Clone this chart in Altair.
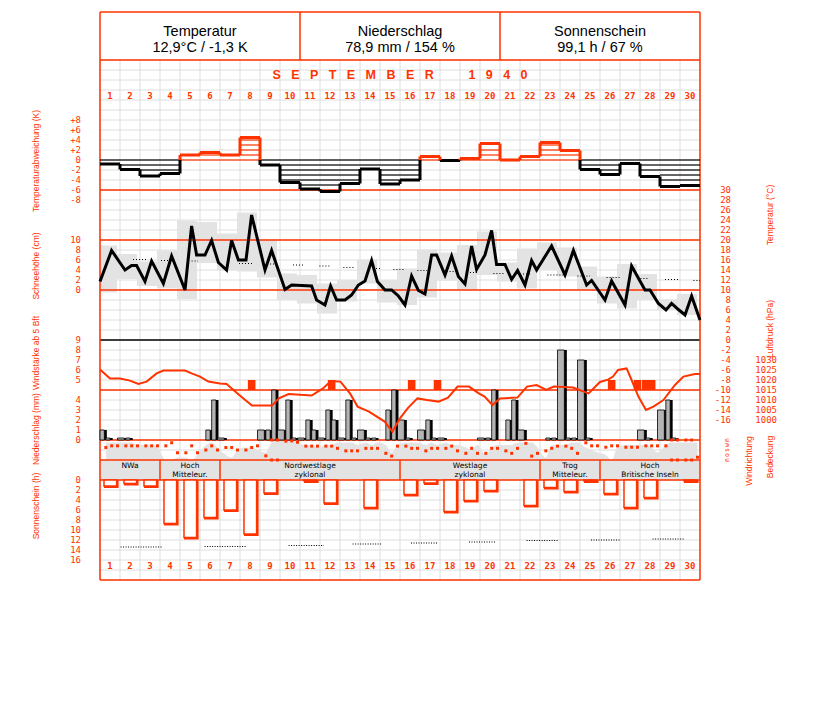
import altair as alt
import pandas as pd

RED = "#ff3300"
GRID = "#dedede"
GREY = "#e3e3e3"
NARROW = "Liberation Sans, Arial, sans-serif"
MONO = "DejaVu Sans Mono, Liberation Mono, monospace"
SANS = "DejaVu Sans, Liberation Sans, sans-serif"
NB = "\u00a0"

# ------------------------------------------------------------------ data
days = list(range(1, 31))
obs_hours = [7, 14, 21]

header_title = ["Temperatur", "Niederschlag", "Sonnenschein"]
header_value = ["12,9°C / -1,3 K", "78,9 mm / 154 %", "99,1 h / 67 %"]
month_word = "SEPTEMBER"
year_word = "1940"

# daily temperature anomaly (K)
anomaly = [-0.8, -1.9, -3.2, -2.7, 1.0, 1.5, 1.0, 4.5, -1.0, -4.5,
           -5.8, -6.3, -4.7, -1.8, -4.8, -4.0, 0.7, -0.1, 0.3, 3.3,
           0.0, 0.7, 3.5, 1.9, -1.9, -2.9, -0.7, -3.3, -5.3, -5.1]

# daily max / min temperature (°C)
tmax = [18.9, 17.2, 15.7, 17.9, 23.9, 23.6, 21.3, 25.5, 20.1, 13.3,
        13.0, 11.3, 12.0, 16.1, 12.0, 14.3, 18.1, 17.5, 19.0, 21.7,
        15.5, 18.3, 19.5, 18.5, 14.7, 12.7, 15.2, 13.2, 8.1, 9.2]
tmin = [9.5, 12.2, 10.8, 10.3, 8.2, 15.4, 13.9, 13.7, 12.5, 8.0,
        7.3, 5.3, 7.7, 11.3, 7.5, 7.0, 8.5, 11.9, 10.1, 13.0,
        11.7, 10.3, 14.0, 12.7, 10.0, 7.3, 6.3, 8.0, 6.0, 5.0]

# temperature curve (time in days since 1 Sep 0h, °C)
temp_time = [0.0, 0.58, 1.25, 1.58, 1.83, 2.25, 2.58, 3.17, 3.58, 4.25,
             4.58, 4.83, 5.25, 5.58, 5.92, 6.33, 6.58, 6.92, 7.3, 7.58,
             8.25, 8.58, 9.25, 9.58, 10.58, 10.83, 11.25, 11.53, 11.83, 12.25,
             12.58, 12.92, 13.25, 13.58, 13.87, 14.25, 14.58, 14.92, 15.25, 15.58,
             15.92, 16.25, 16.58, 16.83, 17.25, 17.58, 17.92, 18.25, 18.58, 18.83,
             19.25, 19.58, 19.83, 20.25, 20.58, 20.88, 21.25, 21.58, 21.83, 22.58,
             23.25, 23.67, 24.33, 24.58, 25.25, 25.58, 26.25, 26.58, 27.25, 27.5,
             27.92, 28.3, 28.58, 28.92, 29.25, 29.58, 30.0]
temp_value = [11.7, 17.9, 14.0, 14.9, 14.9, 11.7, 15.8, 11.3, 16.8, 10.0,
              22.8, 17.0, 17.0, 19.9, 15.5, 14.0, 19.9, 16.0, 16.0, 25.0,
              14.0, 17.9, 10.1, 11.0, 10.8, 8.0, 7.0, 10.8, 8.0, 8.0,
              9.0, 11.0, 11.8, 15.9, 11.7, 10.0, 10.0, 8.8, 7.0, 12.8,
              9.9, 9.2, 17.0, 17.0, 13.0, 16.8, 12.7, 11.2, 18.8, 14.1,
              17.0, 21.9, 15.1, 15.1, 12.1, 13.9, 11.0, 15.9, 14.0, 18.8,
              13.0, 17.9, 11.0, 11.9, 8.0, 11.8, 7.0, 14.8, 10.0, 10.0,
              7.3, 6.0, 7.3, 6.1, 5.0, 8.8, 4.0]

# normal temperature (dotted pieces): start day, end day, °C
tnorm_start = [1.65, 3.05, 4.58, 6.95, 8.5, 9.65, 10.97, 12.17, 13.65, 14.67,
               15.87, 17.33, 18.5, 19.67, 21.15, 22.37, 23.87, 25.33, 26.87, 28.25, 29.67]
tnorm_end = [2.35, 3.6, 4.9, 7.6, 8.85, 10.2, 11.5, 12.75, 14.0, 15.2,
             16.42, 17.83, 18.9, 20.2, 21.6, 23.25, 24.5, 26.0, 27.42, 28.92, 30.0]
tnorm_value = [16.1, 15.9, 15.8, 15.3, 15.2, 15.0, 14.8, 14.5, 14.3, 14.1,
               13.9, 13.7, 13.5, 13.3, 13.2, 13.0, 12.8, 12.5, 12.3, 12.1, 11.9]

# air pressure curve (time in days, hPa)
press_time = [0.0, 0.5, 1.0, 1.5, 1.92, 2.33, 2.83, 3.17, 4.25, 4.58,
              5.0, 5.42, 6.0, 6.33, 6.67, 7.17, 7.6, 8.6, 8.94, 9.43,
              10.58, 11.15, 11.54, 12.02, 12.5, 12.88, 13.45, 14.23, 14.62, 15.0,
              15.38, 15.87, 16.35, 16.93, 17.4, 17.88, 18.45, 18.94, 19.23, 19.62,
              20.0, 20.87, 21.35, 21.83, 22.31, 22.69, 23.65, 24.43, 25.0, 25.4,
              25.65, 25.9, 26.33, 26.58, 26.92, 27.3, 27.67, 28.17, 28.75, 29.17,
              29.75, 30.0]
press_value = [1025.3, 1020.8, 1020.8, 1019.7, 1018.0, 1019.2, 1023.3, 1024.7, 1024.7, 1023.3,
               1021.7, 1019.2, 1018.3, 1018.0, 1015.0, 1010.8, 1007.2, 1007.2, 1010.8, 1013.0,
               1012.2, 1015.8, 1019.5, 1019.2, 1013.3, 1006.7, 1004.2, 999.2, 994.2, 1000.8,
               1005.8, 1010.8, 1010.0, 1009.2, 1011.2, 1016.7, 1016.7, 1013.3, 1011.7, 1007.5,
               1010.8, 1011.2, 1016.7, 1017.5, 1015.0, 1016.7, 1016.2, 1013.3, 1019.0, 1020.2,
               1021.7, 1025.0, 1025.8, 1020.0, 1011.7, 1005.0, 1006.7, 1010.0, 1017.5, 1021.7,
               1023.0, 1023.0]

# precipitation per interval (mm): night (21-7 h), 7-14 h, 14-21 h
precip_night = [1.0, 0.2, 0, 0, 0, 0, 0.2, 0, 1.0, 1.0,
                0.2, 0.2, 0.2, 1.0, 0, 2.0, 1.0, 0.2, 0, 0.2,
                0, 1.0, 0, 9.0, 8.0, 0, 0, 1.0, 3.0, 0]
precip_morning = [0.2, 0.2, 0, 0, 0, 1.0, 0, 0, 1.0, 4.0,
                  2.0, 3.0, 4.0, 0.2, 3.0, 0.2, 2.0, 0, 0, 0.2,
                  2.0, 0, 0.2, 0.2, 0.2, 0, 0, 0.2, 4.0, 0]
precip_afternoon = [0, 0, 0, 0, 0, 4.0, 0, 0, 5.0, 0.2,
                    1.0, 2.0, 0.2, 0.2, 5.0, 0, 0.2, 0, 0, 5.0,
                    4.0, 0, 0.2, 0.2, 0, 0, 0, 0, 0.2, 0]

# observations with wind force >= 5 Bft
wind_day = [8, 12, 16, 17, 26, 27, 28, 28]
wind_hour = [14, 14, 14, 21, 14, 21, 7, 14]
wind_bft = [5, 5, 5, 5, 5, 5, 5, 5]

# wind direction per observation (degrees, 0 = N) 7/14/21 h
wind_dir = [135, 105, 105, 105, 105, 105, 105, 105, 105, 105, 50, 230,
            230, 105, 230, 180, 105, 180, 135, 135, 180, 180, 135, 105,
            285, 0, 0, 20, 15, 40, 110, 110, 110, 110, 110, 150,
            195, 195, 195, 150, 150, 150, 240, 290, 110, 110, 150, 150,
            195, 150, 150, 150, 110, 195, 240, 150, 240, 240, 150, 150,
            195, 240, 150, 60, 290, 240, 195, 150, 110, 110, 150, 240,
            50, 105, 105, 130, 105, 105, 130, 130, 130, 105, 105, 105,
            105, 0, 0, 0, 0, 310]

# cloud cover per observation (octas) 7/14/21 h
cloud = [7, 7, 7, 7, 7, 6, 6, 6, 5, 0, 0, 1,
         1, 0, 2, 6, 7, 5, 2, 1, 4, 5, 5, 4,
         3, 7, 8, 8, 8, 7, 6, 6, 5, 6, 6, 7,
         7, 7, 6, 7, 6, 7, 6, 3, 6, 7, 7, 7,
         6, 7, 6, 7, 6, 6, 5, 4, 6, 2, 5, 6,
         6, 6, 7, 7, 7, 5, 1, 6, 6, 6, 7, 7,
         5, 4, 3, 2, 0, 5, 6, 6, 6, 6, 5, 3,
         6, 7, 7, 7, 7, 7]

# sunshine duration (h)
sunshine = [1.2, 0.7, 1.2, 8.7, 11.5, 7.5, 6.0, 10.8, 2.6, 0.0,
            0.2, 4.6, 0.0, 5.5, 0.0, 2.9, 0.6, 6.3, 4.1, 2.1,
            0.0, 5.1, 1.5, 2.3, 0.2, 2.7, 5.5, 3.5, 0.0, 0.2]
sun_norm_start = [1.03, 5.23, 9.43, 12.63, 15.55, 18.45, 21.33, 24.55, 27.63]
sun_norm_end = [3.12, 7.3, 11.2, 14.1, 16.9, 19.8, 22.9, 26.0, 29.2]
sun_norm_value = [13.4, 13.3, 13.1, 12.8, 12.6, 12.4, 12.1, 12.0, 11.8]

# weather types
wt_start = [0, 3, 6, 15, 22, 25]
wt_end = [3, 6, 15, 22, 25, 30]
wt_line1 = ["NWa", "Hoch", "Nordwestlage", "Westlage", "Trog", "Hoch"]
wt_line2 = ["", "Mitteleur.", "zyklonal", "zyklonal", "Mitteleur.", "Britische Inseln"]

# ------------------------------------------------------------------ scales
def ys(domain, p0, p1):
    return alt.Scale(domain=domain, range=[p0 - 8, p1 - 8], nice=False, zero=False)

XS = alt.Scale(domain=[0, 30], range=[92, 692], nice=False, zero=False, clamp=True)
ROW = ys([-4.8, 52], 12, 580)
ANOM = ys([-8, 8], 200, 120)
TEMP = ys([-16, 30], 420, 190)
SNOW = ys([0, 10], 290, 240)
PRES = ys([1000, 1030], 420, 360)
WIND = ys([4, 9], 390, 340)
PREC = ys([0, 10], 440, 340)
WDIR = ys([0, 360], 440, 460)
CLOUD = ys([0, 8], 460, 440)
SUN = ys([0, 16], 480, 560)


def X(f):
    return alt.X(f"{f}:Q", scale=XS, axis=None)


def Y(f, sc):
    return alt.Y(f"{f}:Q", scale=sc, axis=None)


layers = []

# ---------------- grid
grid_v = pd.DataFrame({"t": list(range(31)), "r0": 0, "r1": 52})
layers.append(alt.Chart(grid_v).mark_rule(color=GRID, strokeWidth=1).encode(
    x=X("t"), y=Y("r0", ROW), y2="r1"))
grid_h = pd.DataFrame({"r": list(range(53)), "a": 0, "b": 30})
layers.append(alt.Chart(grid_h).mark_rule(color=GRID, strokeWidth=1).encode(
    x=X("a"), x2="b", y=Y("r", ROW)))

# ---------------- temperature min/max blocks
blk = pd.DataFrame({"d": days, "lo": tmin, "hi": tmax})
blk["a"] = blk["d"] - 1.15
blk["b"] = blk["d"] - 0.15
layers.append(alt.Chart(blk).mark_rect(color=GREY).encode(
    x=X("a"), x2="b", y=Y("lo", TEMP), y2="hi"))

# ---------------- weather type band background and cloud cover
band = pd.DataFrame({"a": [0], "b": [30], "r0": [40], "r1": [42]})
layers.append(alt.Chart(band).mark_rect(color=GREY).encode(
    x=X("a"), x2="b", y=Y("r0", ROW), y2="r1"))
obs_t = [d - 1 + h / 24 for d in days for h in obs_hours]
cl = pd.DataFrame({"t": obs_t, "c": cloud})
layers.append(alt.Chart(cl).mark_area(color=GREY, interpolate="monotone").encode(
    x=X("t"), y=Y("c", CLOUD), y2=alt.datum(0)))

# ---------------- structural lines
hl = pd.DataFrame({"r": [-4.8, 0, 13, 18, 23, 33, 38, 40, 42, 52, 28],
                   "c": [RED] * 10 + ["black"], "a": 0, "b": 30})
layers.append(alt.Chart(hl).mark_rule(strokeWidth=1.5).encode(
    x=X("a"), x2="b", y=Y("r", ROW), color=alt.Color("c:N", scale=None)))
vl = pd.DataFrame({"t": [0, 30, 10, 20] + wt_start[1:],
                   "r0": [-4.8, -4.8, -4.8, -4.8] + [40] * 5,
                   "r1": [52, 52, 0, 0] + [42] * 5})
layers.append(alt.Chart(vl).mark_rule(color=RED, strokeWidth=1.5).encode(
    x=X("t"), y=Y("r0", ROW), y2="r1"))

# ---------------- temperature anomaly
hatch = []
for d, a in zip(days, anomaly):
    col = RED if a >= 0 else "black"
    k = 0
    while k == 0 or k < abs(a) - 0.3:
        hatch.append({"a": d - 1, "b": d, "v": k if a >= 0 else -k, "c": col})
        k += 1
hatch = pd.DataFrame(hatch)
layers.append(alt.Chart(hatch).mark_rule(strokeWidth=1.2).encode(
    x=X("a"), x2="b", y=Y("v", ANOM), color=alt.Color("c:N", scale=None)))
tops = pd.DataFrame({"a": [d - 1 for d in days], "b": days, "v": anomaly,
                     "c": [RED if a >= 0 else "black" for a in anomaly]})
layers.append(alt.Chart(tops).mark_rule(strokeWidth=3).encode(
    x=X("a"), x2="b", y=Y("v", ANOM), color=alt.Color("c:N", scale=None)))
verts = []
for i in range(29):
    a0, a1 = anomaly[i], anomaly[i + 1]
    lo, hi = min(a0, a1), max(a0, a1)
    if lo < 0:
        verts.append({"t": i + 1, "v0": lo, "v1": min(hi, 0), "c": "black"})
    if hi > 0:
        verts.append({"t": i + 1, "v0": max(lo, 0), "v1": hi, "c": RED})
verts = pd.DataFrame(verts)
layers.append(alt.Chart(verts).mark_rule(strokeWidth=3).encode(
    x=X("t"), y=Y("v0", ANOM), y2="v1", color=alt.Color("c:N", scale=None)))

# ---------------- temperature normal + curve
tn = pd.DataFrame({"a": tnorm_start, "b": tnorm_end, "v": tnorm_value})
layers.append(alt.Chart(tn).mark_rule(color="black", strokeWidth=1.2, strokeDash=[1, 2]).encode(
    x=X("a"), x2="b", y=Y("v", TEMP)))
tc = pd.DataFrame({"t": temp_time, "v": temp_value})
layers.append(alt.Chart(tc).mark_line(color="black", strokeWidth=3).encode(
    x=X("t"), y=Y("v", TEMP)))

# ---------------- precipitation
pr = []
for i, d in enumerate(days):
    for s, e, v in [(-3 / 24, 7 / 24, precip_night[i]), (7 / 24, 14 / 24, precip_morning[i]),
                    (14 / 24, 21 / 24, precip_afternoon[i])]:
        if v > 0:
            pr.append({"a": d - 1 + s, "b": d - 1 + e, "v": v, "z": 0})
pr = pd.DataFrame(pr)
layers.append(alt.Chart(pr).mark_rect(color="black", xOffset=2, x2Offset=1).encode(
    x=X("a"), x2="b", y=Y("z", PREC), y2="v"))
layers.append(alt.Chart(pr).mark_rect(fill="#b4b4b4", stroke="black", strokeWidth=0.8, x2Offset=-1.5).encode(
    x=X("a"), x2="b", y=Y("z", PREC), y2="v"))

# ---------------- wind >= 5 Bft
wd = pd.DataFrame({"t": [d - 1 + h / 24 for d, h in zip(wind_day, wind_hour)], "v": wind_bft})
wd["a"] = wd["t"] - 0.19
wd["b"] = wd["t"] + 0.19
wd["z"] = 4
layers.append(alt.Chart(wd).mark_rect(color=RED).encode(
    x=X("a"), x2="b", y=Y("z", WIND), y2="v"))

# ---------------- air pressure
pc = pd.DataFrame({"t": press_time, "v": press_value})
layers.append(alt.Chart(pc).mark_line(color=RED, strokeWidth=2).encode(
    x=X("t"), y=Y("v", PRES)))

# ---------------- wind direction dots
dots = []
for t, v in zip(obs_t, wind_dir):
    dots.append({"t": t, "v": v})
    if v == 0:
        dots.append({"t": t, "v": 360})
dots = pd.DataFrame(dots)
layers.append(alt.Chart(dots).mark_square(color=RED, size=9, opacity=1).encode(
    x=X("t"), y=Y("v", WDIR)))

# ---------------- sunshine
sn = pd.DataFrame({"d": days, "v": sunshine})
sn = sn[sn["v"] > 0].copy()
sn["a"] = sn["d"] - 0.8
sn["b"] = sn["d"] - 0.17
sn["z"] = 0
layers.append(alt.Chart(sn).mark_rect(color=RED, x2Offset=2, y2Offset=2).encode(
    x=X("a"), x2="b", y=Y("z", SUN), y2="v"))
layers.append(alt.Chart(sn).mark_rect(fill="white", stroke=RED, strokeWidth=1.5).encode(
    x=X("a"), x2="b", y=Y("z", SUN), y2="v"))
sno = pd.DataFrame({"a": sun_norm_start, "b": sun_norm_end, "v": sun_norm_value})
layers.append(alt.Chart(sno).mark_rule(color="black", strokeWidth=1.2, strokeDash=[1, 1.5]).encode(
    x=X("a"), x2="b", y=Y("v", SUN)))

# ---------------- texts
hd = pd.DataFrame({"t": [5, 15, 25], "l1": header_title, "l2": header_value,
                   "r1": -2.85, "r2": -1.2})
layers.append(alt.Chart(hd).mark_text(font=NARROW, fontSize=14.5, color="black").encode(
    x=X("t"), y=Y("r1", ROW), text="l1:N"))
layers.append(alt.Chart(hd).mark_text(font=NARROW, fontSize=14.5, color="black").encode(
    x=X("t"), y=Y("r2", ROW), text="l2:N"))
month_title = (NB * 3).join(month_word) + NB * 10 + (NB * 3).join(year_word)
mt = pd.DataFrame({"t": [15], "r": [1.5], "s": [month_title]})
layers.append(alt.Chart(mt).mark_text(font="Liberation Sans", fontSize=12.5, fontWeight="bold",
                                      color=RED).encode(x=X("t"), y=Y("r", ROW), text="s:N"))
dn = pd.DataFrame({"t": [d - 0.5 for d in days] * 2, "r": [3.6] * 30 + [50.6] * 30,
                   "s": [str(d) for d in days] * 2})
layers.append(alt.Chart(dn).mark_text(font=MONO, fontSize=9, fontWeight="bold", color=RED).encode(
    x=X("t"), y=Y("r", ROW), text="s:N"))
wt = pd.DataFrame({"t": [(a + b) / 2 for a, b in zip(wt_start, wt_end)], "l1": wt_line1,
                   "l2": wt_line2, "r1": 40.55, "r2": 41.5})
layers.append(alt.Chart(wt).mark_text(font=SANS, fontSize=7.5, color="black").encode(
    x=X("t"), y=Y("r1", ROW), text="l1:N"))
layers.append(alt.Chart(wt).mark_text(font=SANS, fontSize=7.5, color="black").encode(
    x=X("t"), y=Y("r2", ROW), text="l2:N"))


def tick_labels(values, labels, sc, xpx):
    df = pd.DataFrame({"v": values, "s": labels})
    return alt.Chart(df).mark_text(font=MONO, fontSize=9, color=RED, align="right").encode(
        x=alt.value(xpx - 8), y=Y("v", sc), text="s:N")


anom_ticks = [8, 6, 4, 2, 0, -2, -4, -6, -8]
layers.append(tick_labels(anom_ticks, [("+" if v > 0 else "") + str(v) for v in anom_ticks], ANOM, 81))
snow_ticks = [0, 2, 4, 6, 8, 10]
layers.append(tick_labels(snow_ticks, [str(v) for v in snow_ticks], SNOW, 81))
wind_ticks = [5, 6, 7, 8, 9]
layers.append(tick_labels(wind_ticks, [str(v) for v in wind_ticks], WIND, 81))
prec_ticks = [0, 1, 2, 3, 4]
layers.append(tick_labels(prec_ticks, [str(v) for v in prec_ticks], PREC, 81))
sun_ticks = list(range(0, 17, 2))
layers.append(tick_labels(sun_ticks, [str(v) for v in sun_ticks], SUN, 81))
temp_ticks = list(range(-16, 31, 2))
layers.append(tick_labels(temp_ticks, [str(v) for v in temp_ticks], TEMP, 731))
pres_ticks = list(range(1000, 1031, 5))
layers.append(tick_labels(pres_ticks, [str(v) for v in pres_ticks], PRES, 777))
dir_ticks = [0, 90, 180, 270, 360]
dir_lab = ["n", "w", "s", "o", "n"]
layers.append(alt.Chart(pd.DataFrame({"v": dir_ticks, "s": dir_lab})).mark_text(
    font=MONO, fontSize=6.5, color=RED, angle=270).encode(
    x=alt.value(727 - 8), y=Y("v", WDIR), text="s:N"))

for s, xx, yy in [("Temperaturabweichung (K)", 36, 161), ("Schneehöhe (cm)", 36, 266),
                  ("Windstärke ab 5 Bft", 36, 353), ("Niederschlag (mm)", 36, 429),
                  ("Sonnenschein (h)", 36, 506),
                  ("Temperatur (°C)", 770, 215), ("Luftdruck (hPa)", 770, 329),
                  ("Windrichtung", 749, 461), ("Bedeckung", 770, 457)]:
    layers.append(alt.Chart(pd.DataFrame({"s": [s]})).mark_text(
        font=NARROW, fontSize=8.5, color=RED, angle=270).encode(
        x=alt.value(xx - 8), y=alt.value(yy - 8), text="s:N"))

chart = alt.layer(*layers).resolve_scale(y="independent").properties(
    width=811, height=686, padding=0, autosize="none"
).configure_view(stroke=None)

chart.save("out.html", embed_options={"renderer": "svg", "actions": False})
